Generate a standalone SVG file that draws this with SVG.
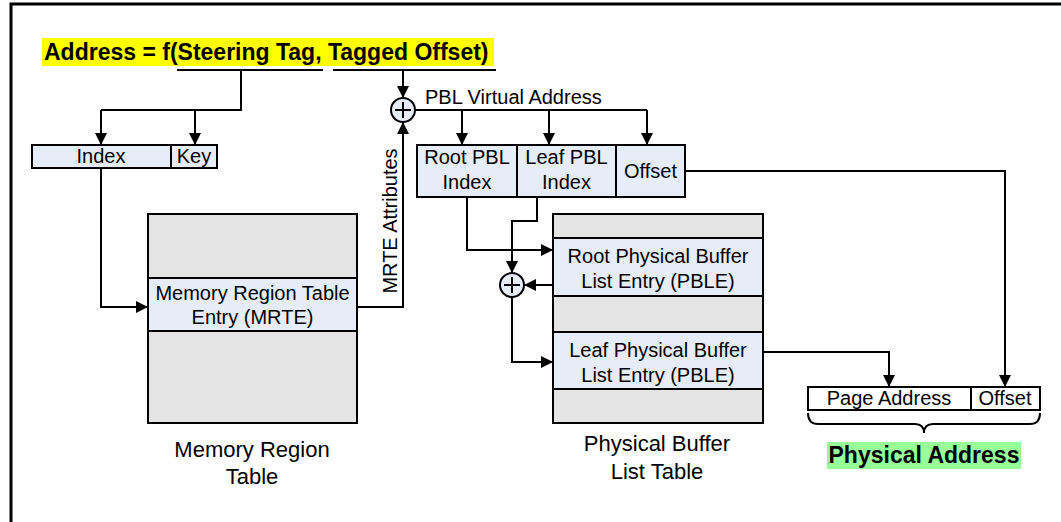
<svg xmlns="http://www.w3.org/2000/svg" width="1061" height="522" viewBox="0 0 1061 522">
<defs>
<style>
text{font-family:"Liberation Sans",Arial,sans-serif;fill:#000}
.t20{font-size:20px}
.t22{font-size:22px}
.b23{font-size:23px;font-weight:bold}
.mid{text-anchor:middle}
.blue{fill:#E6ECF8;stroke:#000;stroke-width:2}
.gray{fill:#E4E4E4;stroke:#000;stroke-width:2}
.white{fill:#fff;stroke:#000;stroke-width:2}
.ln{fill:none;stroke:#000;stroke-width:2}
.arr{fill:none;stroke:#000;stroke-width:2;marker-end:url(#ah)}
</style>
<marker id="ah" markerUnits="userSpaceOnUse" markerWidth="12" markerHeight="12" refX="12" refY="6" orient="auto">
<path d="M0,0 L12,6 L0,12 Z" fill="#000"/>
</marker>
</defs>
<rect width="1061" height="522" fill="#fff"/>
<rect x="11" y="4" width="1100" height="600" fill="none" stroke="#000" stroke-width="3"/>

<g id="title">
<rect x="42" y="38" width="452" height="28" fill="#FFFF00"/>
<text class="b23" x="44" y="60">Address = f(Steering Tag, Tagged Offset)</text>
</g>

<g id="index-key">
<rect class="blue" x="32" y="145" width="139" height="23"/>
<rect class="blue" x="171" y="145" width="46" height="23"/>
<text class="t20 mid" x="101" y="163">Index</text>
<text class="t20 mid" x="194" y="163">Key</text>
</g>

<g id="pbl-va">
<rect class="blue" x="417" y="145" width="100" height="52"/>
<rect class="blue" x="517" y="145" width="99" height="52"/>
<rect class="blue" x="616" y="145" width="69" height="52"/>
<text class="t20 mid" x="467" y="164">Root PBL</text>
<text class="t20 mid" x="467" y="189">Index</text>
<text class="t20 mid" x="566.5" y="164">Leaf PBL</text>
<text class="t20 mid" x="566.5" y="189">Index</text>
<text class="t20 mid" x="650.5" y="178">Offset</text>
</g>

<g id="plus1">
<circle class="blue" cx="403" cy="110" r="12"/>
<path class="ln" d="M395,110 H411 M403,102 V118"/>
</g>

<g id="plus2">
<circle class="blue" cx="512" cy="285" r="12"/>
<path class="ln" d="M504,285 H520 M512,277 V293"/>
</g>

<g id="mrt">
<rect class="gray" x="148" y="214" width="209" height="209"/>
<rect class="blue" x="148" y="278" width="209" height="53"/>
<text class="t20 mid" x="252.5" y="300">Memory Region Table</text>
<text class="t20 mid" x="252.5" y="324">Entry (MRTE)</text>
<text class="t22 mid" x="252" y="457">Memory Region</text>
<text class="t22 mid" x="252" y="484">Table</text>
</g>

<g id="pblt">
<rect class="gray" x="553" y="214" width="210" height="209"/>
<rect class="blue" x="553" y="238" width="210" height="58"/>
<rect class="blue" x="553" y="332" width="210" height="57"/>
<text class="t20 mid" x="658" y="263">Root Physical Buffer</text>
<text class="t20 mid" x="658" y="288">List Entry (PBLE)</text>
<text class="t20 mid" x="658" y="357">Leaf Physical Buffer</text>
<text class="t20 mid" x="658" y="382">List Entry (PBLE)</text>
<text class="t22 mid" x="657" y="451">Physical Buffer</text>
<text class="t22 mid" x="657" y="479">List Table</text>
</g>

<g id="phys-addr">
<rect class="white" x="808" y="387" width="163" height="23"/>
<rect class="white" x="971" y="387" width="69" height="23"/>
<text class="t20 mid" x="889" y="405">Page Address</text>
<text class="t20 mid" x="1005" y="405">Offset</text>
<path class="ln" d="M808,413 Q808,424 818,424 L915,424 Q924,424 924,433 Q924,424 933,424 L1030,424 Q1040,424 1040,413"/>
<rect x="827" y="442" width="194" height="27" fill="#99FF99"/>
<text class="b23" x="924" y="463" text-anchor="middle">Physical Address</text>
</g>

<g id="connectors">
<path class="ln" d="M177,70 H323 M333,70 H496"/>
<path class="ln" d="M241,70 V110 H101"/>
<path class="arr" d="M101,110 V145"/>
<path class="arr" d="M195,110 V145"/>
<path class="arr" d="M403,70 V98"/>
<path class="ln" d="M415,110 H647"/>
<path class="arr" d="M462,110 V145"/>
<path class="arr" d="M549,110 V145"/>
<path class="arr" d="M647,110 V145"/>
<path class="arr" d="M101,168 V307 H148"/>
<path class="arr" d="M357,307 H403 V122"/>
<text class="t20 mid" transform="translate(397,221) rotate(-90)">MRTE Attributes</text>
<text class="t20" x="425" y="104">PBL Virtual Address</text>
<path class="arr" d="M467,197 V250 H553"/>
<path class="arr" d="M537,197 V221 H512 V273"/>
<path class="arr" d="M553,285 H524"/>
<path class="arr" d="M512,297 V362 H553"/>
<path class="arr" d="M763,352 H889 V387"/>
<path class="arr" d="M685,171 H1005 V387"/>
</g>
</svg>
